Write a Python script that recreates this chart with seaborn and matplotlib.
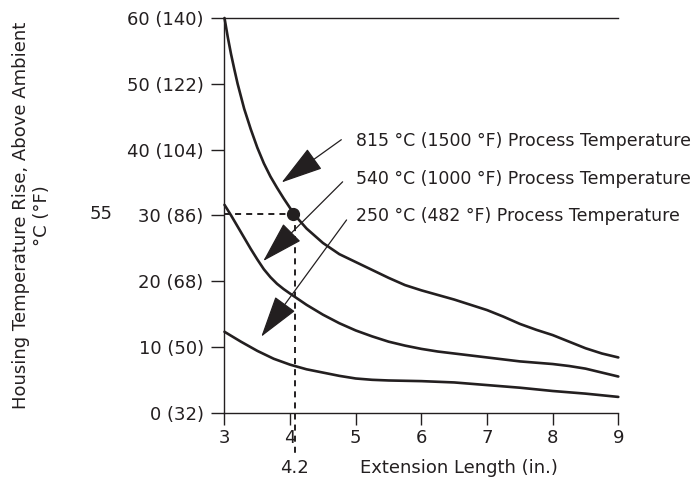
import numpy as np
import pandas as pd
import seaborn as sns
import matplotlib.pyplot as plt

# ---- data ----
ext_815 = [3.0, 3.05, 3.1, 3.15, 3.2, 3.3, 3.4, 3.5, 3.6, 3.7, 3.8, 3.9, 4.0, 4.1,
           4.25, 4.5, 4.75, 5.0, 5.25, 5.5, 5.75, 6.0, 6.25, 6.5, 6.75, 7.0,
           7.25, 7.5, 7.75, 8.0, 8.25, 8.5, 8.75, 9.0]
rise_815 = [60.0, 57.1, 54.5, 52.2, 50.0, 46.2, 43.1, 40.3, 37.9, 35.9, 34.2, 32.6,
            31.1, 29.7, 28.0, 25.8, 24.1, 22.9, 21.7, 20.5, 19.4, 18.6, 17.9, 17.2,
            16.4, 15.6, 14.6, 13.5, 12.6, 11.8, 10.8, 9.8, 9.0, 8.4]

ext_540 = [3.0, 3.1, 3.2, 3.3, 3.4, 3.5, 3.6, 3.7, 3.8, 3.9, 4.0, 4.25, 4.5, 4.75,
           5.0, 5.25, 5.5, 5.75, 6.0, 6.25, 6.5, 6.75, 7.0, 7.25, 7.5, 7.75,
           8.0, 8.25, 8.5, 8.75, 9.0]
rise_540 = [31.6, 30.0, 28.3, 26.6, 24.9, 23.3, 21.8, 20.6, 19.6, 18.8, 18.1, 16.4,
            14.9, 13.6, 12.5, 11.6, 10.8, 10.2, 9.7, 9.3, 9.0, 8.7, 8.4, 8.1, 7.8,
            7.6, 7.4, 7.1, 6.7, 6.1, 5.5]

ext_250 = [3.0, 3.25, 3.5, 3.75, 4.0, 4.25, 4.5, 4.75, 5.0, 5.25, 5.5, 5.75, 6.0,
           6.25, 6.5, 6.75, 7.0, 7.5, 8.0, 8.5, 9.0]
rise_250 = [12.3, 10.8, 9.4, 8.2, 7.3, 6.6, 6.1, 5.6, 5.2, 5.0, 4.9, 4.85, 4.8,
            4.7, 4.6, 4.4, 4.2, 3.8, 3.3, 2.9, 2.4]

series_labels = ["815 °C (1500 °F) Process Temperature",
                 "540 °C (1000 °F) Process Temperature",
                 "250 °C (482 °F) Process Temperature"]

x_ticks = [3, 4, 5, 6, 7, 8, 9]
y_ticks = [0, 10, 20, 30, 40, 50, 60]
y_tick_labels = ["0 (32)", "10 (50)", "20 (68)", "30 (86)",
                 "40 (104)", "50 (122)", "60 (140)"]

# example reading point
example_x = 4.07
example_y = 30.2
example_x_label = "4.2"
example_y_label = "55"

# annotation arrows: (tail, head) and label baselines
arrow_tails = [(4.78, 41.5), (4.80, 35.1), (4.86, 29.3)]
arrow_heads = [(3.87, 35.0), (3.59, 23.05), (3.56, 11.55)]
label_x = 5.01
label_y = [40.5, 34.75, 29.2]

ink = "#231f20"

sns.set_theme(style="ticks")
plt.rcParams['font.family'] = ['DejaVu Sans']

df = pd.DataFrame({
    "ext": ext_815 + ext_540 + ext_250,
    "rise": rise_815 + rise_540 + rise_250,
    "curve": [series_labels[0]] * len(ext_815) + [series_labels[1]] * len(ext_540)
             + [series_labels[2]] * len(ext_250),
})

fig = plt.figure(figsize=(7, 4.8), dpi=100)
ax = fig.add_axes([0.3207, 0.1402, 0.5626, 0.8223])

sns.lineplot(data=df, x="ext", y="rise", hue="curve",
             palette={s: ink for s in series_labels}, linewidth=1.9,
             legend=False, ax=ax, clip_on=False)

ax.set_xlim(3, 9)
ax.set_ylim(0, 60)
ax.set_xticks(x_ticks)
ax.set_xticklabels([str(v) for v in x_ticks])
ax.set_yticks(y_ticks)
ax.set_yticklabels(y_tick_labels)

for side in ["left", "bottom", "top"]:
    ax.spines[side].set_color(ink)
    ax.spines[side].set_linewidth(1.0)
ax.spines["right"].set_visible(False)

ax.tick_params(axis="x", direction="out", length=8.5, width=1.0, color=ink,
               labelsize=13, labelcolor=ink, pad=3)
ax.tick_params(axis="y", direction="out", length=9.5, width=1.0, color=ink,
               labelsize=13, labelcolor=ink, pad=5.5)

# axis labels
ax.set_xlabel("Extension Length (in.)", fontsize=13, color=ink)
ax.xaxis.set_label_coords(0.595, -0.140)
ax.xaxis.label.set_va("center")
ax.set_ylabel("Housing Temperature Rise, Above Ambient\n°C (°F)",
              fontsize=13, color=ink, linespacing=1.25)
ax.yaxis.set_label_coords(-0.490, 0.5)
ax.yaxis.label.set_va("center")
ax.yaxis.label.set_ha("center")

# dashed guide lines and the reading point
dash = (0, (3.1, 2.6))
ax.plot([3, example_x], [example_y, example_y], color=ink, lw=1.4,
        linestyle=dash, clip_on=False)
ax.plot([example_x, example_x], [example_y, -6.7], color=ink, lw=1.4,
        linestyle=dash, clip_on=False)
ax.plot([example_x - 0.02], [example_y], marker="o", markersize=8.5,
        color=ink, clip_on=False)

ax.text(example_x, -0.140, example_x_label, transform=ax.get_xaxis_transform(),
        ha="center", va="center", fontsize=13, color=ink)
ax.text(-0.3136, example_y, example_y_label, transform=ax.get_yaxis_transform(),
        ha="center", va="center", fontsize=13, color=ink)

# arrows and series labels
for tail, head, lab, ly in zip(arrow_tails, arrow_heads, series_labels, label_y):
    ax.annotate("", xy=head, xytext=tail,
                arrowprops=dict(arrowstyle="-|>,head_length=1.35,head_width=0.4",
                                mutation_scale=20, lw=0.9, color=ink,
                                shrinkA=0, shrinkB=0))
    ax.text(label_x, ly, lab, ha="left", va="baseline", fontsize=12.5, color=ink)

fig.savefig("out.png", dpi=100, facecolor="white")
